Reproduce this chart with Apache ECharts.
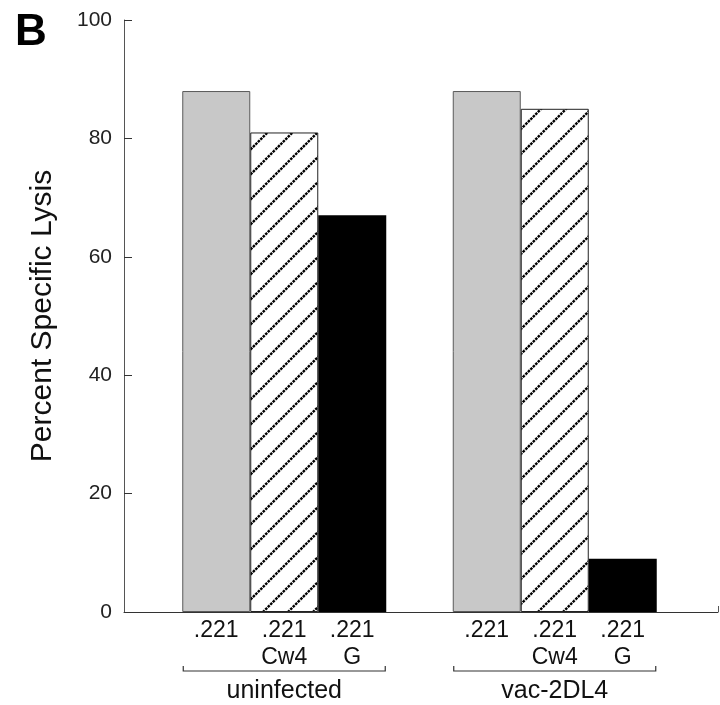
<!DOCTYPE html>
<html>
<head>
<meta charset="utf-8">
<script src="https://cdn.jsdelivr.net/npm/echarts@6/dist/echarts.min.js"></script>
<style>
html,body{margin:0;padding:0;background:#fff;}
#main{width:720px;height:705px;}
</style>
</head>
<body>
<div id="main"></div>
<script>
// ---- data ----
const groups = ['uninfected', 'vac-2DL4'];
const targetLabels = ['.221', '.221\nCw4', '.221\nG'];
const lysis221 = [88, 88];
const lysisCw4 = [81, 85];
const lysisG = [67, 9];
const yMin = 0, yMax = 100, yStep = 20;
const yTitle = 'Percent Specific Lysis';
const panelLetter = 'B';

const FONT = '"Liberation Sans", Arial, Helvetica, sans-serif';

// hatch pattern
function makeHatch() {
  const s = 25;
  const c = document.createElement('canvas');
  c.width = s; c.height = s;
  const ctx = c.getContext('2d');
  ctx.fillStyle = '#fff';
  ctx.fillRect(0, 0, s, s);
  ctx.strokeStyle = '#000';
  ctx.lineWidth = 2.4;
  ctx.setLineDash([2.6, 0.9]);
  for (let k = -1; k <= 1; k++) {
    ctx.beginPath();
    ctx.moveTo(-2 + k * s, s + 2);
    ctx.lineTo(s + 2 + k * s, -2);
    ctx.stroke();
  }
  return c;
}

const chart = echarts.init(document.getElementById('main'), null, {renderer: 'canvas'});
const BAR_W = 68;

const labelStyle = (txt) => ({
  show: true,
  position: 'bottom',
  distance: 5,
  formatter: txt,
  fontFamily: FONT,
  fontSize: 23,
  lineHeight: 27,
  color: '#111',
  align: 'center'
});

const option = {
  animation: false,
  backgroundColor: '#fff',
  title: {
    text: panelLetter,
    left: 10,
    top: 6,
    textStyle: {fontFamily: FONT, fontSize: 44, fontWeight: 'bold', color: '#000'}
  },
  grid: [
    {left: 124, right: 2, top: 20, bottom: 93},
    {left: 149, width: 541, top: 20, bottom: 93}
  ],
  xAxis: [
    {
      gridIndex: 0, type: 'value', min: 0, max: 1, interval: 1,
      axisLine: {show: true, lineStyle: {color: '#333', width: 1}},
      axisTick: {show: true, inside: true, length: 6, lineStyle: {color: '#555'}},
      axisLabel: {show: false},
      splitLine: {show: false}
    },
    {
      gridIndex: 1, type: 'category', data: groups,
      axisLine: {show: false},
      axisTick: {show: false},
      axisLabel: {show: true, margin: 67, fontFamily: FONT, fontSize: 25, color: '#111'},
      splitLine: {show: false}
    }
  ],
  yAxis: [
    {
      gridIndex: 0, type: 'value', min: yMin, max: yMax, interval: yStep,
      name: yTitle, nameLocation: 'middle', nameRotate: 90, nameGap: 66,
      nameTextStyle: {fontFamily: FONT, fontSize: 30, color: '#111'},
      axisLine: {show: true, lineStyle: {color: '#555', width: 1}},
      axisTick: {show: true, inside: true, length: 8, lineStyle: {color: '#333'}},
      axisLabel: {show: true, margin: 12, fontFamily: FONT, fontSize: 21, color: '#222'},
      splitLine: {show: false}
    },
    {
      gridIndex: 1, type: 'value', min: yMin, max: yMax, show: false
    }
  ],
  series: [
    {
      type: 'bar', name: targetLabels[0], xAxisIndex: 1, yAxisIndex: 1,
      data: lysis221, barWidth: BAR_W, barGap: '0%',
      itemStyle: {color: '#c8c8c8', borderColor: '#5a5a5a', borderWidth: 1},
      label: labelStyle(targetLabels[0])
    },
    {
      type: 'bar', name: targetLabels[1], xAxisIndex: 1, yAxisIndex: 1,
      data: lysisCw4, barWidth: BAR_W, barGap: '0%',
      itemStyle: {color: {image: makeHatch(), repeat: 'repeat'}, borderColor: '#222', borderWidth: 1},
      label: labelStyle(targetLabels[1])
    },
    {
      type: 'bar', name: targetLabels[2], xAxisIndex: 1, yAxisIndex: 1,
      data: lysisG, barWidth: BAR_W, barGap: '0%',
      itemStyle: {color: '#000', borderColor: '#000', borderWidth: 0},
      label: labelStyle(targetLabels[2])
    },
    {
      type: 'custom', xAxisIndex: 1, yAxisIndex: 1, clip: false, silent: true,
      data: groups.map((g, i) => [i, 0]),
      renderItem: function (params, api) {
        const p = api.coord([api.value(0), api.value(1)]);
        const half = BAR_W * 1.5 - 1;
        const y = p[1] + 59;
        return {
          type: 'polyline',
          shape: {points: [[p[0] - half, y - 5], [p[0] - half, y], [p[0] + half, y], [p[0] + half, y - 5]]},
          style: {stroke: '#333', lineWidth: 1.2, fill: null}
        };
      }
    }
  ]
};
chart.setOption(option);
</script>
</body>
</html>
